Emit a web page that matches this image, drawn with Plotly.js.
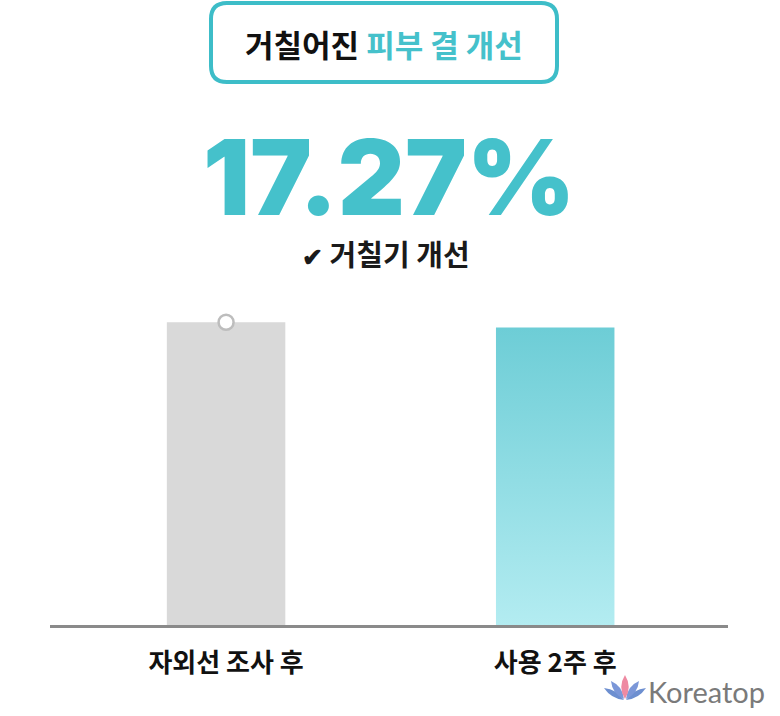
<!DOCTYPE html>
<html>
<head>
<meta charset="utf-8">
<script src="https://cdn.plot.ly/plotly-3.0.1.min.js"></script>
<style>html,body{margin:0;padding:0;background:#fff;}#chart{width:780px;height:716px;}</style>
</head>
<body>
<div id="chart"></div>
<script>
// ---- data ----
const categories = ["자외선 조사 후", "사용 2주 후"];
const values = [100, 98.3];
const barColors = ["#d9d9d9", "#8fdbe2"];
const headlineValue = "17.27%";
const titleDark = "거칠어진 ";
const titleAccent = "피부 결 개선";
const subLabel = "거칠기 개선";
const brand = "Koreatop";

// ---- layout geometry ----
const W = 780, H = 716;
const M = {l: 50, r: 52, t: 292, b: 91};
const plotW = W - M.l - M.r, plotH = H - M.t - M.b;
const px = x => (x - M.l) / plotW;
const py = y => (H - M.b - y) / plotH;
const X = v => px(v).toFixed(5), Y = v => py(v).toFixed(5);

function roundRect(x0, y0, x1, y1, r) {
  return `M${X(x0 + r)},${Y(y0)} L${X(x1 - r)},${Y(y0)} Q${X(x1)},${Y(y0)} ${X(x1)},${Y(y0 + r)} ` +
    `L${X(x1)},${Y(y1 - r)} Q${X(x1)},${Y(y1)} ${X(x1 - r)},${Y(y1)} L${X(x0 + r)},${Y(y1)} ` +
    `Q${X(x0)},${Y(y1)} ${X(x0)},${Y(y1 - r)} L${X(x0)},${Y(y0 + r)} Q${X(x0)},${Y(y0)} ${X(x0 + r)},${Y(y0)} Z`;
}
// leaf from base (bx,by) to tip (tx,ty), bulging by w on both sides
function leaf(bx, by, tx, ty, w) {
  const mx = (bx + tx) / 2, my = (by + ty) / 2;
  const dx = tx - bx, dy = ty - by, len = Math.hypot(dx, dy);
  const nx = -dy / len * w, ny = dx / len * w;
  return `M${X(bx)},${Y(by)} Q${X(mx + nx)},${Y(my + ny)} ${X(tx)},${Y(ty)} Q${X(mx - nx)},${Y(my - ny)} ${X(bx)},${Y(by)} Z`;
}

const KR = '"Noto Sans CJK KR", "Noto Sans", sans-serif';
const logoShape = (path, color) => ({type: 'path', xref: 'paper', yref: 'paper', path: path, fillcolor: color, line: {width: 0}});

const traces = [
  {
    type: 'bar', x: categories, y: values,
    marker: {color: barColors, line: {width: 0}},
    width: 0.36, hoverinfo: 'skip', cliponaxis: false
  },
  {
    type: 'scatter', mode: 'markers', x: [categories[0]], y: [values[0]],
    marker: {size: 15, color: '#ffffff', line: {color: '#bdbdbd', width: 2.5}},
    hoverinfo: 'skip', cliponaxis: false
  }
];

const layout = {
  width: W, height: H,
  margin: M,
  paper_bgcolor: '#ffffff', plot_bgcolor: '#ffffff',
  showlegend: false,
  xaxis: {
    type: 'category', range: [-0.535, 1.525],
    showgrid: false, zeroline: false,
    showline: true, linecolor: '#8a8a8a', linewidth: 2.5,
    ticks: '', ticklabelstandoff: 13,
    tickfont: {family: KR, size: 26, color: '#111111', weight: 700}
  },
  yaxis: {
    range: [0, 110], visible: false, showgrid: false, zeroline: false, fixedrange: true
  },
  shapes: [
    {type: 'path', xref: 'paper', yref: 'paper', path: roundRect(211, 3, 557, 82, 16),
     line: {color: '#3dbdc8', width: 4}, fillcolor: '#ffffff', layer: 'below'},
    // lotus logo
    logoShape(leaf(624, 700, 604, 688, 5.5), '#6d8fd0'),
    logoShape(leaf(626, 700, 646, 688, 5.5), '#6d8fd0'),
    logoShape(leaf(624, 699, 611, 681, 6.5), '#7b97d8'),
    logoShape(leaf(626, 699, 639, 681, 6.5), '#7b97d8'),
    logoShape(leaf(625, 699, 625, 675, 7.5), '#ee8aa2')
  ],
  annotations: [
    {xref: 'paper', yref: 'paper', x: px(384), y: py(44), xanchor: 'center', yanchor: 'middle', showarrow: false,
     text: titleDark + '<span style="color:#45c1cb">' + titleAccent + '</span>',
     font: {family: KR, size: 31, color: '#111111', weight: 700}},
    {xref: 'paper', yref: 'paper', x: px(389), y: py(177), xanchor: 'center', yanchor: 'middle', showarrow: false,
     text: headlineValue, height: 96, valign: 'middle',
     font: {family: 'Inter, "DejaVu Sans", sans-serif', size: 104, color: '#45c1cb', weight: 900}},
    {xref: 'paper', yref: 'paper', x: px(386), y: py(253), xanchor: 'center', yanchor: 'middle', showarrow: false,
     text: '<span style="font-size:25px">✔</span> ' + subLabel,
     font: {family: KR, size: 29, color: '#1a1a1a', weight: 700}},
    {xref: 'paper', yref: 'paper', x: px(646), y: py(691), xanchor: 'left', yanchor: 'middle', showarrow: false,
     text: brand,
     font: {family: 'Lato, "Noto Sans", sans-serif', size: 29, color: '#7a7a7a', weight: 400}}
  ]
};

Plotly.newPlot('chart', traces, layout, {staticPlot: true, displayModeBar: false}).then(gd => {
  const svg = gd.querySelector('svg.main-svg');
  const ns = 'http://www.w3.org/2000/svg';
  let defs = svg.querySelector('defs');
  if (!defs) { defs = document.createElementNS(ns, 'defs'); svg.insertBefore(defs, svg.firstChild); }
  const grad = document.createElementNS(ns, 'linearGradient');
  grad.setAttribute('id', 'tealGrad');
  grad.setAttribute('x1', '0'); grad.setAttribute('y1', '0');
  grad.setAttribute('x2', '0'); grad.setAttribute('y2', '1');
  [['0', '#6dcdd6'], ['1', '#b3ecf1']].forEach(([o, c]) => {
    const s = document.createElementNS(ns, 'stop');
    s.setAttribute('offset', o); s.setAttribute('stop-color', c);
    grad.appendChild(s);
  });
  defs.appendChild(grad);
  const bars = gd.querySelectorAll('.barlayer .point path');
  if (bars[1]) bars[1].style.fill = 'url(#tealGrad)';
});
</script>
</body>
</html>
